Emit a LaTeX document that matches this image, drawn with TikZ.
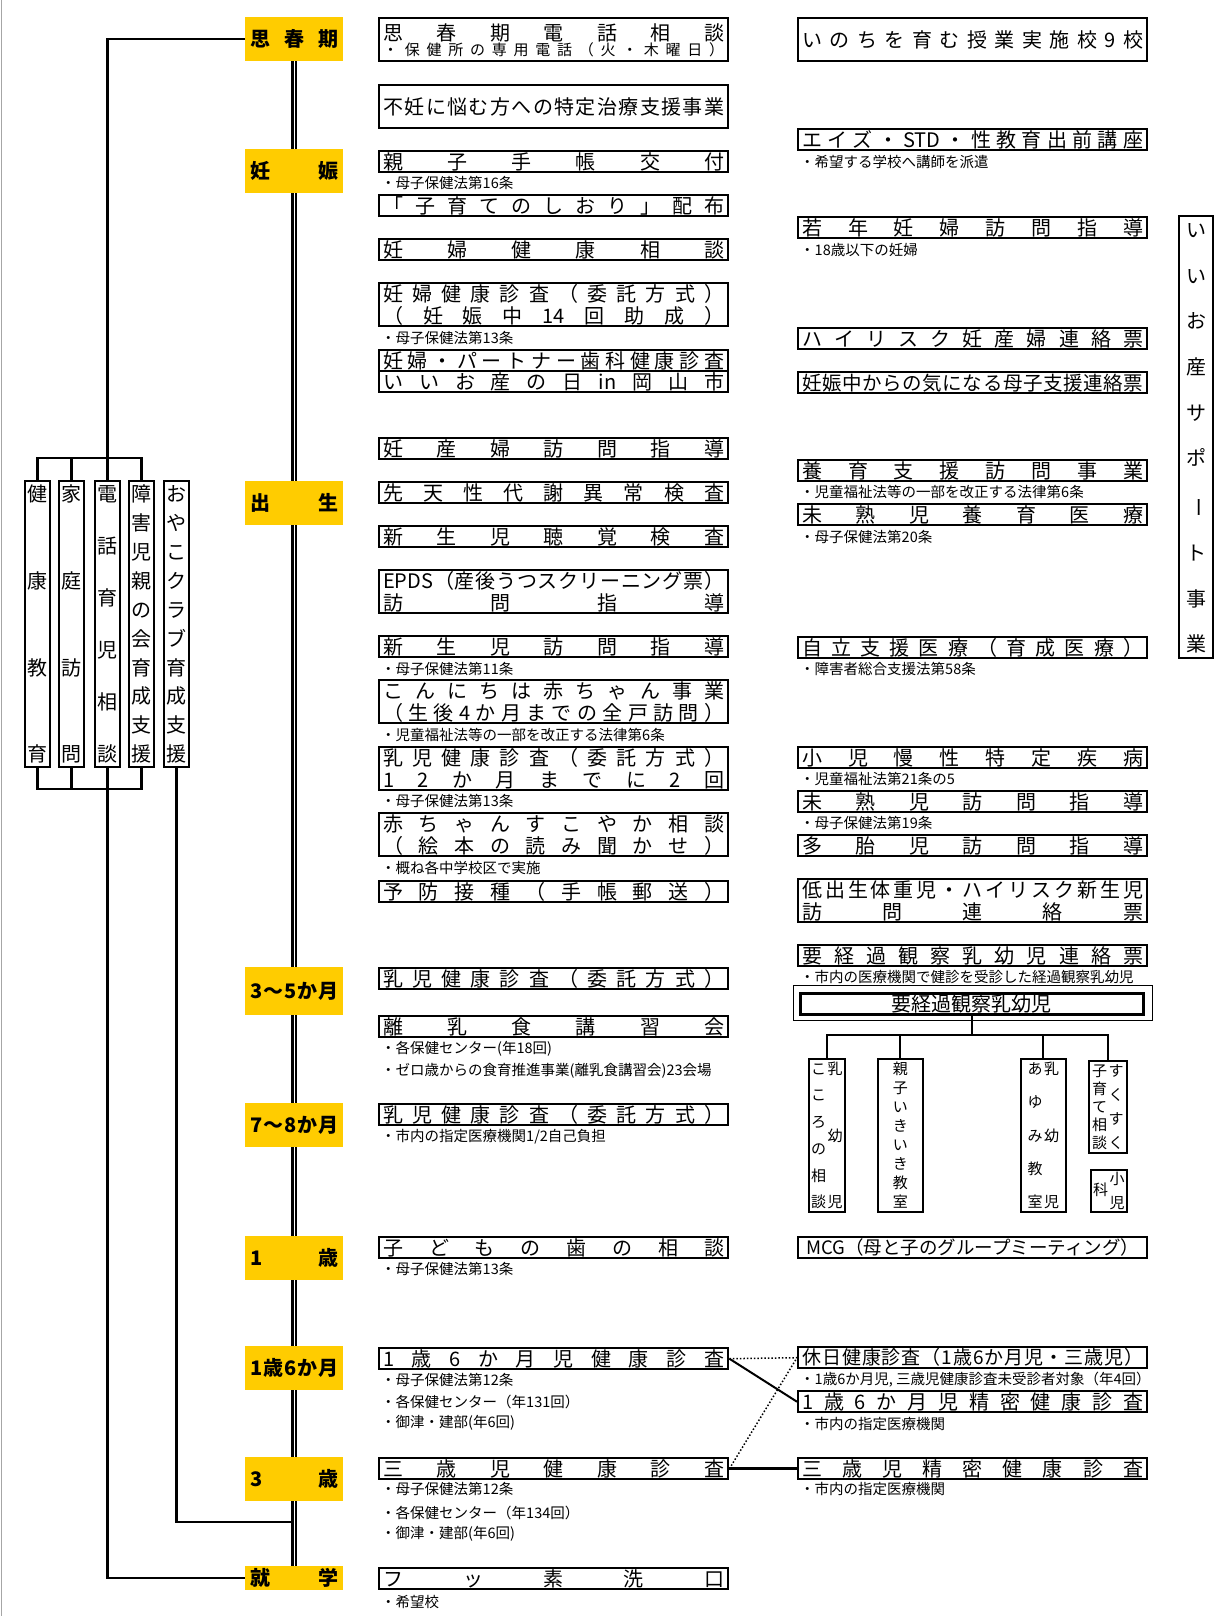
\documentclass[tikz,border=0pt]{standalone}
\usepackage{fontspec}
\usepackage{graphicx}
\setmainfont{Noto Sans CJK JP}
\usepackage{tikz}
\usetikzlibrary{shapes}
\definecolor{stagegold}{HTML}{FFCC00}

\ExplSyntaxOn
% spread the characters over the whole line
\NewDocumentCommand \kinto { m }
  { \hbox to \hsize { \rule[-.12em]{0pt}{1em} \tl_map_inline:nn {#1} { ##1 \hfill } \unskip } }
% vertical writing, spread over the given height
\NewDocumentCommand \tate { m m }
  { \vbox to #1 { \offinterlineskip
      \tl_map_inline:nn {#2} { \hbox to 1.1em { \hss \rule[-.12em]{0pt}{1em} ##1 \hss } \vfill }
      \unskip } }
\ExplSyntaxOff
\newcommand\tatebou{\rotatebox[origin=c]{-90}{ー}}

\tikzset{
  stage_node/.style = {anchor=north west, fill=stagegold, inner xsep=5pt, inner ysep=0pt,
    text width=88pt, minimum height=44pt, font=\bfseries\fontsize{20}{22}\selectfont},% time of life
  item_node/.style = {anchor=north west, draw, line width=2.4pt, inner xsep=4pt, inner ysep=0pt,
    text width=341pt, minimum height=21pt, font=\fontsize{20}{22}\selectfont},% one service
  two_line/.style = {item_node, minimum height=43pt},% service on two lines
  note_text/.style = {anchor=west, inner sep=0pt, font=\fontsize{14.5}{16}\selectfont},
  tate_node/.style = {anchor=north west, draw, line width=2pt, inner sep=0pt,
    minimum width=25pt, minimum height=286pt, font=\fontsize{20}{22}\selectfont},
  sub_node/.style = {anchor=north west, draw, line width=1.6pt, inner sep=0pt,
    minimum height=153pt, font=\fontsize{15}{16}\selectfont},
  link/.style = {line width=2.2pt},
  timeline/.style = {double, double distance=1.4pt, line width=2.2pt}
}

\begin{document}
\begin{tikzpicture}[x=1pt, y=-1pt]
  \useasboundingbox (0,0) rectangle (1222,1616);
  \draw[gray!70, line width=1pt] (1,0) -- (1,1616);

  % stages
  \node[stage_node] (st1) at (245,17) {\kinto{思春期}};
  \node[stage_node] (st2) at (245,149) {\kinto{妊娠}};
  \node[stage_node] (st3) at (245,481) {\kinto{出生}};
  \node[stage_node, minimum height=48pt] (st4) at (245,967) {\kinto{3〜5か月}};
  \node[stage_node] (st5) at (245,1103) {\kinto{7〜8か月}};
  \node[stage_node] (st6) at (245,1236) {\kinto{1歳}};
  \node[stage_node] (st7) at (245,1346) {\kinto{1歳6か月}};
  \node[stage_node] (st8) at (245,1457) {\kinto{3歳}};
  \node[stage_node, minimum height=24pt] (st9) at (245,1566) {\kinto{就学}};

  % left group
  \node[tate_node] (v1) at (24,480) {\tate{278pt}{健康教育}};
  \node[tate_node] (v2) at (58,480) {\tate{278pt}{家庭訪問}};
  \node[tate_node] (v3) at (94,480) {\tate{278pt}{電話育児相談}};
  \node[tate_node] (v4) at (128,480) {\tate{278pt}{障害児親の会育成支援}};
  \node[tate_node] (v5) at (163,480) {\tate{278pt}{おやこクラブ育成支援}};

  \coordinate (topbar) at (106.5,458);
  \coordinate (botbar) at (106.5,789);
  \coordinate (oyako) at (294,1522);
  \draw[link] (st1.west) -| (v3.north);
  \draw[link] (v1.north) |- (topbar) -| (v4.north);
  \draw[link] (v2.north) -- (v2.north |- topbar);
  \draw[link] (v1.south) |- (botbar) -| (v4.south);
  \draw[link] (v2.south) -- (v2.south |- botbar);
  \draw[link] (v3.south) |- (st9.west);
  \draw[link] (v5.south) |- (oyako);

  \foreach \a/\b in {st1/st2, st2/st3, st3/st4, st4/st5, st5/st6, st6/st7, st7/st8, st8/st9}
    \draw[timeline] (\a.south) -- (\b.north);

  % middle column
  \node[two_line] (m1) at (378,17) {\kinto{思春期電話相談}\\[-3pt]{\fontsize{15}{18}\selectfont\kinto{・保健所の専用電話（火・木曜日）}}};
  \node[two_line] (m2) at (378,84) {\kinto{不妊に悩む方への特定治療支援事業}};
  \node[item_node] (m3) at (378,150) {\kinto{親子手帳交付}};
  \node[item_node] (m4) at (378,194) {\kinto{「子育てのしおり」配布}};
  \node[item_node] (m5) at (378,238) {\kinto{妊婦健康相談}};
  \node[two_line] (m6) at (378,282) {\kinto{妊婦健康診査（委託方式）}\\\kinto{（妊娠中{14}回助成）}};
  \node[item_node] (m7) at (378,349) {\kinto{妊婦・パートナー歯科健康診査}};
  \node[item_node] (m8) at (378,370) {\kinto{いいお産の日{in}岡山市}};
  \node[item_node] (m9) at (378,437) {\kinto{妊産婦訪問指導}};
  \node[item_node] (m10) at (378,481) {\kinto{先天性代謝異常検査}};
  \node[item_node] (m11) at (378,525) {\kinto{新生児聴覚検査}};
  \node[two_line] (m12) at (378,569) {\kinto{{EPDS}（産後うつスクリーニング票）}\\\kinto{訪問指導}};
  \node[item_node] (m13) at (378,635) {\kinto{新生児訪問指導}};
  \node[two_line] (m14) at (378,679) {\kinto{こんにちは赤ちゃん事業}\\\kinto{（生後4か月までの全戸訪問）}};
  \node[two_line] (m15) at (378,746) {\kinto{乳児健康診査（委託方式）}\\\kinto{12か月までに2回}};
  \node[two_line] (m16) at (378,812) {\kinto{赤ちゃんすこやか相談}\\\kinto{（絵本の読み聞かせ）}};
  \node[item_node] (m17) at (378,880) {\kinto{予防接種（手帳郵送）}};
  \node[item_node] (m18) at (378,967) {\kinto{乳児健康診査（委託方式）}};
  \node[item_node] (m19) at (378,1015) {\kinto{離乳食講習会}};
  \node[item_node] (m20) at (378,1103) {\kinto{乳児健康診査（委託方式）}};
  \node[item_node] (m21) at (378,1236) {\kinto{子どもの歯の相談}};
  \node[item_node] (m22) at (378,1347) {\kinto{1歳6か月児健康診査}};
  \node[item_node] (m23) at (378,1457) {\kinto{三歳児健康診査}};
  \node[item_node] (m24) at (378,1567) {\kinto{フッ素洗口}};

  \node[note_text] (n1) at (381,183) {・母子保健法第16条};
  \node[note_text] (n2) at (381,338) {・母子保健法第13条};
  \node[note_text] (n3) at (381,669) {・母子保健法第11条};
  \node[note_text] (n4) at (381,735) {・児童福祉法等の一部を改正する法律第6条};
  \node[note_text] (n5) at (381,801) {・母子保健法第13条};
  \node[note_text] (n6) at (381,868) {・概ね各中学校区で実施};
  \node[note_text] (n7) at (381,1049) {・各保健センター(年18回)};
  \node[note_text] (n8) at (381,1071) {・ゼロ歳からの食育推進事業(離乳食講習会)23会場};
  \node[note_text] (n9) at (381,1137) {・市内の指定医療機関1/2自己負担};
  \node[note_text] (n10) at (381,1269) {・母子保健法第13条};
  \node[note_text] (n11) at (381,1380) {・母子保健法第12条};
  \node[note_text] (n12) at (381,1402) {・各保健センター（年131回）};
  \node[note_text] (n13) at (381,1423) {・御津・建部(年6回)};
  \node[note_text] (n14) at (381,1489) {・母子保健法第12条};
  \node[note_text] (n15) at (381,1513) {・各保健センター（年134回）};
  \node[note_text] (n16) at (381,1534) {・御津・建部(年6回)};
  \node[note_text] (n17) at (381,1602) {・希望校};

  % right column
  \node[two_line] (r1) at (797,17) {\kinto{いのちを育む授業実施校9校}};
  \node[item_node] (r2) at (797,128) {\kinto{エイズ・{STD}・性教育出前講座}};
  \node[item_node] (r3) at (797,216) {\kinto{若年妊婦訪問指導}};
  \node[item_node] (r4) at (797,327) {\kinto{ハイリスク妊産婦連絡票}};
  \node[item_node, font=\fontsize{19.5}{22}\selectfont] (r5) at (797,371) {\kinto{妊娠中からの気になる母子支援連絡票}};
  \node[item_node] (r6) at (797,459) {\kinto{養育支援訪問事業}};
  \node[item_node] (r7) at (797,503) {\kinto{未熟児養育医療}};
  \node[item_node] (r8) at (797,636) {\kinto{自立支援医療（育成医療）}};
  \node[item_node] (r9) at (797,746) {\kinto{小児慢性特定疾病}};
  \node[item_node] (r10) at (797,790) {\kinto{未熟児訪問指導}};
  \node[item_node] (r11) at (797,834) {\kinto{多胎児訪問指導}};
  \node[two_line] (r12) at (797,878) {\kinto{低出生体重児・ハイリスク新生児}\\\kinto{訪問連絡票}};
  \node[item_node] (r13) at (797,944) {\kinto{要経過観察乳幼児連絡票}};
  \node[item_node, align=center, font=\fontsize{18.5}{22}\selectfont] (r14) at (797,1236) {MCG（母と子のグループミーティング）};
  \node[item_node, font=\fontsize{19}{22}\selectfont] (r15) at (797,1346) {\kinto{休日健康診査（1歳6か月児・三歳児）}};
  \node[item_node] (r16) at (797,1390) {\kinto{1歳6か月児精密健康診査}};
  \node[item_node] (r17) at (797,1457) {\kinto{三歳児精密健康診査}};

  \node[note_text] (q1) at (800,162) {・希望する学校へ講師を派遣};
  \node[note_text] (q2) at (800,250) {・18歳以下の妊婦};
  \node[note_text] (q3) at (800,492) {・児童福祉法等の一部を改正する法律第6条};
  \node[note_text] (q4) at (800,537) {・母子保健法第20条};
  \node[note_text] (q5) at (800,669) {・障害者総合支援法第58条};
  \node[note_text] (q6) at (800,779) {・児童福祉法第21条の5};
  \node[note_text] (q7) at (800,823) {・母子保健法第19条};
  \node[note_text] (q8) at (800,977) {・市内の医療機関で健診を受診した経過観察乳幼児};
  \node[note_text] (q9) at (800,1380) {・1歳6か月児, 三歳児健康診査未受診者対象（年4回）};
  \node[note_text] (q10) at (800,1424) {・市内の指定医療機関};
  \node[note_text] (q11) at (800,1489) {・市内の指定医療機関};

  % follow-up infants
  \node[anchor=north west, draw, line width=2.5pt, inner sep=0pt, minimum width=343pt,
    minimum height=21pt, font=\fontsize{20}{22}\selectfont] (yk) at (799,992) {要経過観察乳幼児};
  \draw[line width=0.8pt] ([xshift=-6pt,yshift=7pt]yk.north west) rectangle ([xshift=8pt,yshift=-5pt]yk.south east);

  \node[sub_node, minimum width=36pt] (t1) at (808,1058) {\tate{147pt}{こころの相談}\tate{147pt}{乳幼児}};
  \node[sub_node, minimum width=45pt] (t2) at (877,1058) {\tate{147pt}{親子いきいき教室}};
  \node[sub_node, minimum width=45pt] (t3) at (1020,1058) {\tate{147pt}{あゆみ教室}\tate{147pt}{乳幼児}};
  \node[sub_node, minimum width=38pt, minimum height=92pt] (t4) at (1088,1060) {\tate{86pt}{子育て相談}\tate{86pt}{すくすく}};
  \node[sub_node, minimum width=36pt, minimum height=42pt] (t5) at (1090,1169)
    {\vbox to 37pt{\vss\hbox to 1.1em{\hss 科\hss}\vss}\tate{37pt}{小児}};

  \coordinate (ykbar) at (yk.south |- 0,1035);
  \draw[line width=2pt] (yk.south) -- (ykbar);
  \draw[line width=2pt] (t1.north) |- (ykbar) -| (t4.north);
  \draw[line width=2pt] (t2.north) -- (t2.north |- ykbar);
  \draw[line width=2pt] (t3.north) -- (t3.north |- ykbar);

  % side box
  \node[tate_node, minimum width=34pt, minimum height=442pt] (side) at (1178,215) {\tate{432pt}{いいお産サポ\tatebou ト事業}};

  % check-ups
  \draw[dotted, line width=1.5pt] (m22.east) -- (r15.west);
  \draw[line width=2pt] (m22.east) -- (r16.west);
  \draw[dotted, line width=1.5pt] (m23.east) -- (r15.west);
  \draw[line width=3pt] (m23.east) -- (r17.west);
\end{tikzpicture}
\end{document}
